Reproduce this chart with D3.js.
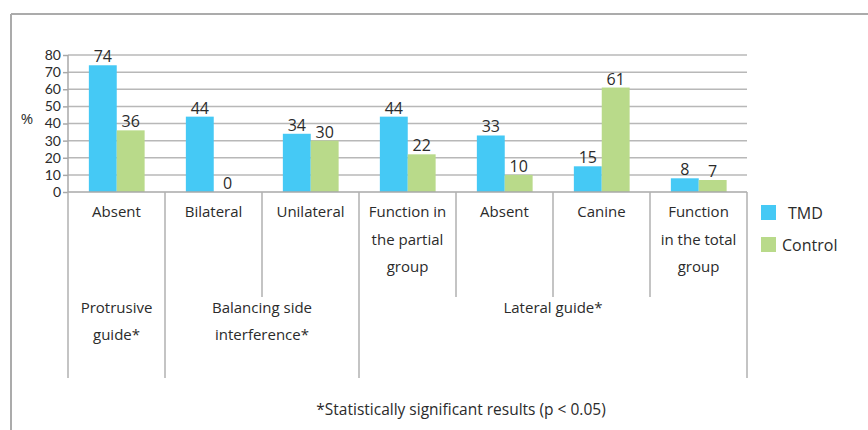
<!DOCTYPE html>
<html><head><meta charset="utf-8">
<script src="https://cdn.jsdelivr.net/npm/d3@7"></script>
<style>body{margin:0;background:#fff}svg{display:block}text{font-family:"Open Sans",sans-serif;fill:#2b2b2b}</style>
</head><body><svg id="c" width="868" height="430"></svg>
<script>
const categories = [["Absent"],["Bilateral"],["Unilateral"],["Function in","the partial","group"],["Absent"],["Canine"],["Function","in the total","group"]];
const series = ["TMD","Control"];
const tmdValues = [74,44,34,44,33,15,8];
const controlValues = [36,0,30,22,10,61,7];
const yTicks = [0,10,20,30,40,50,60,70,80];
const groups = [
  {label:["Protrusive","guide*"], start:0, end:0},
  {label:["Balancing side","interference*"], start:1, end:2},
  {label:["Lateral guide*"], start:3, end:6}
];
const footnote = "*Statistically significant results (p < 0.05)";
const colors = {TMD:"#45C9F5", Control:"#B9DA8A"};

const svg = d3.select("#c");
const L = 68, R = 747, T = 55, B = 192;
const idx = categories.map((d,i)=>i);
const x0 = d3.scaleBand().domain(idx).range([L,R]).padding(0);
const bw = x0.bandwidth();
const x1 = d3.scaleBand().domain(series).range([bw*0.215, bw*0.79]);
const y = d3.scaleLinear().domain([0,80]).range([B,T]);

// frame
svg.append("line").attr("x1",11).attr("x2",868).attr("y1",14).attr("y2",14).attr("stroke","#ababab").attr("stroke-width",2);
svg.append("line").attr("x1",11).attr("x2",11).attr("y1",14).attr("y2",430).attr("stroke","#ababab").attr("stroke-width",2);

// gridlines
svg.append("g").selectAll("line").data(yTicks.filter(d=>d>0)).join("line")
  .attr("x1",L).attr("x2",R).attr("y1",d=>y(d)).attr("y2",d=>y(d))
  .attr("stroke","#b8b8b8").attr("stroke-width",1.5);

// y axis
const ya = svg.append("g").attr("transform",`translate(${L},0)`)
  .call(d3.axisLeft(y).tickValues(yTicks).tickSize(5).tickPadding(2));
ya.select(".domain").remove();
ya.selectAll(".tick line").attr("stroke","#a8a8a8").attr("stroke-width",1.5);
ya.selectAll(".tick text").attr("font-size",14).attr("fill","#2b2b2b").style("font-family","Lato,sans-serif");
svg.append("text").attr("x",27).attr("y",118).attr("text-anchor","middle").attr("dominant-baseline","central").attr("font-size",15).text("%");

// bars
const data = idx.map(i=>({i, vals:[{s:"TMD",v:tmdValues[i]},{s:"Control",v:controlValues[i]}]}));
const g = svg.append("g").selectAll("g").data(data).join("g").attr("transform",d=>`translate(${x0(d.i)},0)`);
g.selectAll("rect").data(d=>d.vals).join("rect")
  .attr("x",d=>x1(d.s)).attr("width",x1.bandwidth())
  .attr("y",d=>y(d.v)).attr("height",d=>y(0)-y(d.v)).attr("fill",d=>colors[d.s]);
g.selectAll("text").data(d=>d.vals).join("text")
  .attr("x",d=>x1(d.s)+x1.bandwidth()/2).attr("y",d=>y(d.v)-3)
  .attr("text-anchor","middle").attr("font-size",16).text(d=>d.v);

// baseline axis
svg.append("line").attr("x1",L).attr("x2",R).attr("y1",B).attr("y2",B).attr("stroke","#a8a8a8").attr("stroke-width",1.5);
svg.append("line").attr("x1",L).attr("x2",L).attr("y1",T).attr("y2",B).attr("stroke","#a8a8a8").attr("stroke-width",1.5);

// separators
const groupBounds = new Set();
groups.forEach(gr=>{groupBounds.add(gr.start); groupBounds.add(gr.end+1);});
svg.append("g").selectAll("line").data(d3.range(categories.length+1)).join("line")
  .attr("x1",i=>i<categories.length?x0(i):R).attr("x2",i=>i<categories.length?x0(i):R)
  .attr("y1",B).attr("y2",i=>groupBounds.has(i)?378:297)
  .attr("stroke","#b0b0b0").attr("stroke-width",1.5);

// category labels
svg.append("g").selectAll("text").data(idx).join("text")
  .attr("text-anchor","middle").attr("font-size",15)
  .attr("x",i=>x0(i)+bw/2).attr("y",217)
  .each(function(i){
    d3.select(this).selectAll("tspan").data(categories[i]).join("tspan")
      .attr("x",x0(i)+bw/2).attr("dy",(d,k)=>k===0?0:27.5).text(d=>d);
  });

// group labels
svg.append("g").selectAll("text").data(groups).join("text")
  .attr("text-anchor","middle").attr("font-size",15)
  .attr("x",d=>(x0(d.start)+x0(d.end)+bw)/2).attr("y",313)
  .each(function(d){
    const cx=(x0(d.start)+x0(d.end)+bw)/2;
    d3.select(this).selectAll("tspan").data(d.label).join("tspan")
      .attr("x",cx).attr("dy",(t,k)=>k===0?0:27).text(t=>t);
  });

// footnote
svg.append("text").attr("x",461).attr("y",415).attr("text-anchor","middle").attr("font-size",15.5).text(footnote);

// legend
const legX = [788, 782];
const lg = svg.append("g").selectAll("g").data(series).join("g");
lg.append("rect").attr("x",761).attr("y",(d,i)=>205+i*32).attr("width",15).attr("height",15).attr("fill",d=>colors[d]);
lg.append("text").attr("x",(d,i)=>legX[i]).attr("y",(d,i)=>212.5+i*32).attr("dominant-baseline","central").attr("font-size",16).text(d=>d);
</script></body></html>
